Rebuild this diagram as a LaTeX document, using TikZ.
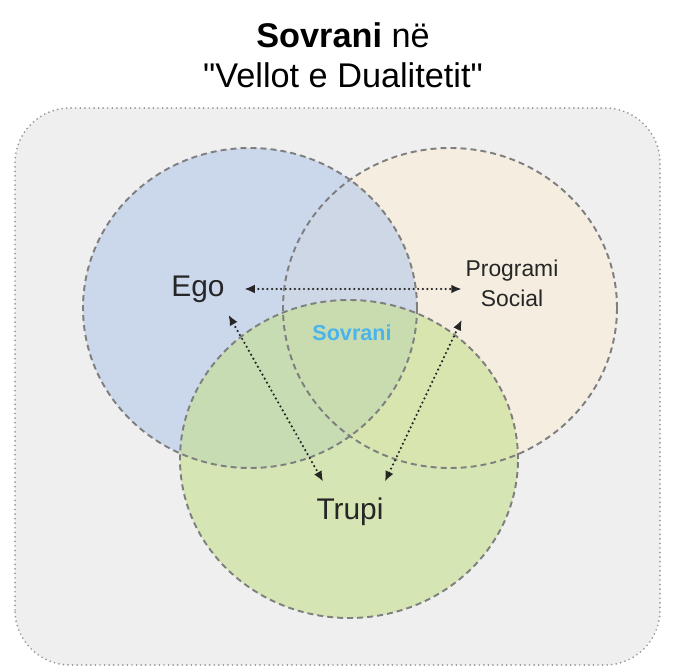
\documentclass[tikz,border=0pt]{standalone}
\usepackage{fontspec}
\setmainfont{Liberation Sans}[Ligatures=TeXOff]
\usetikzlibrary{arrows.meta}

% Colori del diagramma
\definecolor{sfondo}{HTML}{EFEFEF}
\definecolor{bordo}{HTML}{7F7F7F}
\definecolor{egoblu}{HTML}{B3C9EA}
\definecolor{socbeige}{HTML}{F9EDD6}
\definecolor{trupverde}{HTML}{C5E08D}
\definecolor{sovblu}{HTML}{4BB4EB}

\begin{document}
\begin{tikzpicture}[>={Latex[length=6pt,width=5pt]},
		cerchio/.style={draw=bordo, line width=1.1pt, dash pattern=on 3.4pt off 2.3pt},
		freccia/.style={<->, black!85, line width=1.4pt, dash pattern=on 0pt off 2.6pt, line cap=round},
		etichetta/.style={inner sep=2pt, text=black!85}]
		% Parametri dei cerchi
		\def\rx{3.34} % raggio orizzontale
		\def\ry{3.2}  % raggio verticale
		
		\useasboundingbox (0,0) rectangle (13.5,13.36);
		
		% --- Sfondo ---
		\draw[fill=sfondo, draw=black!40, line width=1.1pt, dash pattern=on 0pt off 2.6pt, line cap=round, rounded corners=1.1cm]
		(0.3,0.06) rectangle (13.2,11.2);
		
		% --- Cerchi (riempimento) ---
		\fill[socbeige, fill opacity=0.6] (9.0,7.2) ellipse [x radius=\rx, y radius=\ry];
		\fill[egoblu, fill opacity=0.6] (5.0,7.2) ellipse [x radius=\rx, y radius=\ry];
		\fill[trupverde, fill opacity=0.6] (6.98,4.18) ellipse [x radius=3.38, y radius=3.18];
		
		% --- Cerchi (bordi tratteggiati) ---
		\draw[cerchio] (9.0,7.2) ellipse [x radius=\rx, y radius=\ry];
		\draw[cerchio] (5.0,7.2) ellipse [x radius=\rx, y radius=\ry];
		\draw[cerchio] (6.98,4.18) ellipse [x radius=3.38, y radius=3.18];
		
		% --- Titolo ---
		\node[align=center, font=\fontsize{19.5}{23}\selectfont] (titolo) at (6.86,12.26)
		{\textbf{Sovrani} në\\"Vellot e Dualitetit"};
		
		% --- Etichette ---
		\node[etichetta, font=\fontsize{17}{20}\selectfont] (ego) at (3.96,7.58) {Ego};
		\node[etichetta, align=center, font=\fontsize{13}{17}\selectfont] (prog) at (10.24,7.7) {Programi\\Social};
		\node[etichetta, font=\fontsize{17}{20}\selectfont] (trupi) at (7.0,3.12) {Trupi};
		\node[etichetta, text=sovblu, font=\bfseries\fontsize{12.3}{14}\selectfont] (sovrani) at (7.04,6.7) {Sovrani};
		
		% --- Frecce ---
		\draw[freccia, shorten <=9pt] (ego.east) -- (ego.east -| prog.west);
		\draw[freccia] ([shift={(0,-0.17)}]ego.south east) -- ([shift={(0.21,0.25)}]trupi.north west);
		\draw[freccia] ([shift={(0,-0.19)}]prog.south west) -- ([shift={(-0.05,0.25)}]trupi.north east);
	\end{tikzpicture}
\end{document}
